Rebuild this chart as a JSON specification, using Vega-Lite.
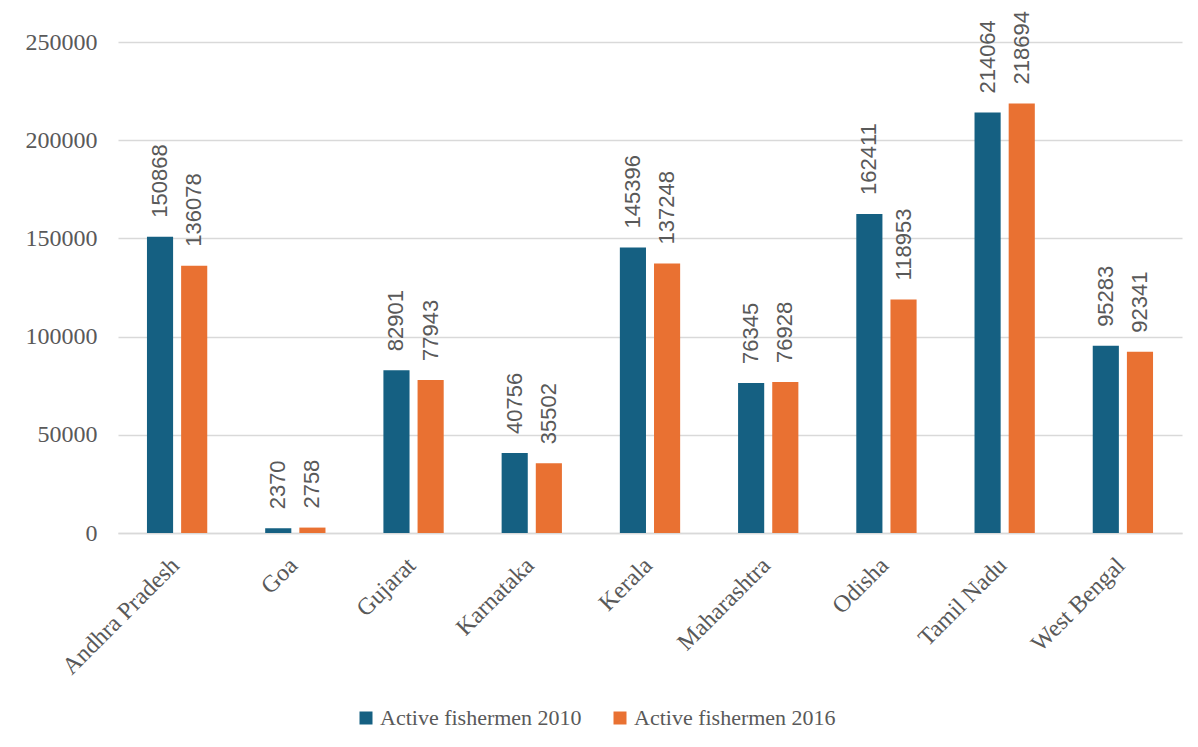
{
  "$schema": "https://vega.github.io/schema/vega-lite/v6.json",
  "autosize": {"type": "none"},
  "padding": {"left": 118, "top": 42, "right": 16, "bottom": 214},
  "width": 1064,
  "height": 491,
  "background": "white",
  "config": {
    "view": {"stroke": null},
    "font": "Liberation Serif"
  },
  "data": {
    "values": [
      {"state": "Andhra Pradesh", "series": "Active fishermen 2010", "value": 150868},
      {"state": "Andhra Pradesh", "series": "Active fishermen 2016", "value": 136078},
      {"state": "Goa", "series": "Active fishermen 2010", "value": 2370},
      {"state": "Goa", "series": "Active fishermen 2016", "value": 2758},
      {"state": "Gujarat", "series": "Active fishermen 2010", "value": 82901},
      {"state": "Gujarat", "series": "Active fishermen 2016", "value": 77943},
      {"state": "Karnataka", "series": "Active fishermen 2010", "value": 40756},
      {"state": "Karnataka", "series": "Active fishermen 2016", "value": 35502},
      {"state": "Kerala", "series": "Active fishermen 2010", "value": 145396},
      {"state": "Kerala", "series": "Active fishermen 2016", "value": 137248},
      {"state": "Maharashtra", "series": "Active fishermen 2010", "value": 76345},
      {"state": "Maharashtra", "series": "Active fishermen 2016", "value": 76928},
      {"state": "Odisha", "series": "Active fishermen 2010", "value": 162411},
      {"state": "Odisha", "series": "Active fishermen 2016", "value": 118953},
      {"state": "Tamil Nadu", "series": "Active fishermen 2010", "value": 214064},
      {"state": "Tamil Nadu", "series": "Active fishermen 2016", "value": 218694},
      {"state": "West Bengal", "series": "Active fishermen 2010", "value": 95283},
      {"state": "West Bengal", "series": "Active fishermen 2016", "value": 92341}
    ]
  },
  "encoding": {
    "x": {
      "field": "state",
      "type": "nominal",
      "sort": null,
      "scale": {"paddingInner": 0.49, "paddingOuter": 0.245},
      "axis": {
        "title": null,
        "labelAngle": -45,
        "labelAlign": "right",
        "labelBaseline": "top",
        "labelFont": "Liberation Serif",
        "labelFontSize": 24,
        "labelColor": "#595959",
        "labelPadding": 20,
        "labelOffset": -10,
        "ticks": false,
        "domainColor": "#D9D9D9",
        "domainWidth": 1.5
      }
    },
    "xOffset": {
      "field": "series",
      "type": "nominal",
      "scale": {"paddingInner": 0.235, "paddingOuter": 0}
    },
    "y": {
      "field": "value",
      "type": "quantitative",
      "scale": {"domain": [0, 250000], "nice": false},
      "axis": {
        "title": null,
        "values": [0, 50000, 100000, 150000, 200000, 250000],
        "format": "d",
        "labelFont": "Liberation Serif",
        "labelFontSize": 24,
        "labelColor": "#595959",
        "labelPadding": 21,
        "ticks": false,
        "domain": false,
        "gridColor": "#D9D9D9",
        "gridWidth": 1.5
      }
    },
    "color": {
      "field": "series",
      "type": "nominal",
      "scale": {"range": ["#156082", "#E97132"]},
      "legend": {
        "title": null,
        "orient": "none",
        "direction": "horizontal",
        "legendX": 237,
        "legendY": 665,
        "symbolType": "square",
        "symbolSize": 169,
        "symbolStrokeWidth": 0,
        "labelFont": "Liberation Serif",
        "labelFontSize": 22,
        "labelLimit": 400,
        "labelColor": "#595959",
        "labelOffset": 3,
        "columnPadding": 27
      }
    }
  },
  "layer": [
    {"mark": {"type": "bar"}},
    {
      "mark": {
        "type": "text",
        "angle": -90,
        "align": "left",
        "baseline": "middle",
        "dx": 19,
        "font": "Liberation Sans",
        "fontSize": 22,
        "color": "#595959"
      },
      "encoding": {
        "text": {"field": "value", "type": "quantitative", "format": "d"},
        "color": {"value": "#595959"}
      }
    }
  ]
}
